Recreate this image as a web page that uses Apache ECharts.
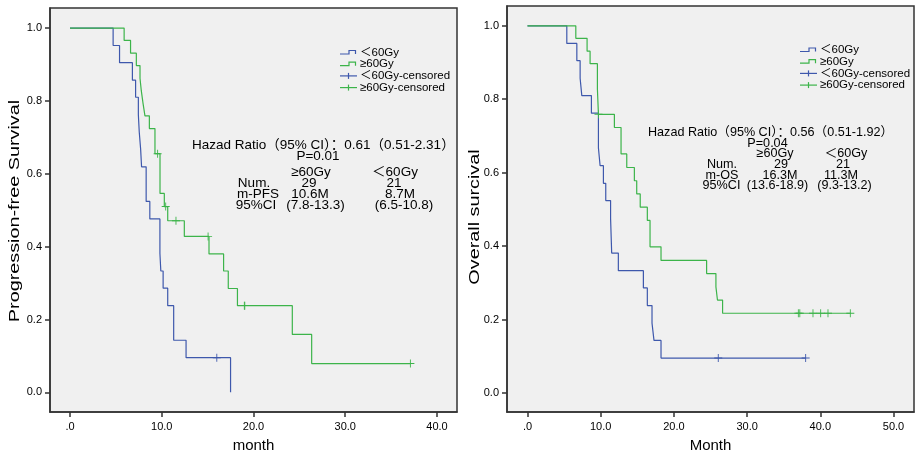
<!DOCTYPE html>
<html><head><meta charset="utf-8">
<script src="https://cdn.jsdelivr.net/npm/echarts@6/dist/echarts.min.js"></script>
<style>html,body{margin:0;padding:0;background:#fff}#c{width:924px;height:458px}</style>
</head><body><div id="c"></div>
<script>
// ---------- Data ----------
// Progression-free survival, <60Gy
const pfsLowTime = [0, 4.7, 5.4, 6.8, 7.15, 7.45, 7.55, 7.7, 7.8, 8.3, 8.7, 9.8, 9.9, 10.15, 10.65, 11.3, 12.65, 17.5];
const pfsLowSurv = [1, 0.952, 0.905, 0.857, 0.810, 0.762, 0.714, 0.667, 0.619, 0.524, 0.476, 0.381, 0.333, 0.286, 0.238, 0.143, 0.095, 0];
const pfsLowCensorTime = [16.0];
const pfsLowCensorSurv = [0.095];
// Progression-free survival, >=60Gy
const pfsHighTime = [0, 5.9, 6.6, 7.23, 7.63, 7.77, 7.96, 8.17, 8.65, 9.26, 9.81, 10.28, 10.65, 12.46, 15.15, 16.74, 17.25, 18.25, 24.23, 26.34, 37.1];
const pfsHighSurv = [1, 0.966, 0.931, 0.897, 0.862, 0.828, 0.793, 0.759, 0.724, 0.655, 0.546, 0.510, 0.471, 0.428, 0.380, 0.333, 0.285, 0.238, 0.159, 0.079, 0.079];
const pfsHighCensorTime = [9.55, 10.43, 11.55, 15.05, 19.0, 19.05, 37.1];
const pfsHighCensorSurv = [0.655, 0.510, 0.471, 0.428, 0.238, 0.238, 0.079];
// Overall survival, <60Gy
const osLowTime = [0, 5.37, 6.74, 7.19, 7.42, 8.73, 9.69, 9.92, 10.37, 10.69, 11.35, 11.5, 12.41, 15.83, 16.37, 17.01, 17.28, 18.24, 38.0];
const osLowSurv = [1, 0.952, 0.905, 0.857, 0.810, 0.762, 0.667, 0.619, 0.571, 0.524, 0.476, 0.381, 0.333, 0.286, 0.238, 0.190, 0.143, 0.095, 0.095];
const osLowCensorTime = [26.06, 38.0];
const osLowCensorSurv = [0.095, 0.095];
// Overall survival, >=60Gy
const osHighTime = [0, 6.6, 8.14, 8.55, 9.55, 9.69, 11.87, 12.78, 13.56, 14.6, 14.92, 15.4, 16.37, 16.74, 18.24, 24.47, 25.74, 25.95, 26.65, 44.1];
const osHighSurv = [1, 0.966, 0.931, 0.897, 0.828, 0.759, 0.723, 0.651, 0.614, 0.578, 0.542, 0.506, 0.470, 0.398, 0.361, 0.325, 0.289, 0.253, 0.217, 0.217];
const osHighCensorTime = [9.7, 37.0, 37.2, 39.0, 40.05, 41.05, 44.1];
const osHighCensorSurv = [0.759, 0.217, 0.217, 0.217, 0.217, 0.217, 0.217];

const xTicksPFS = [0, 10, 20, 30, 40];
const xTicksOS = [0, 10, 20, 30, 40, 50];
const yTicks = [0, 0.2, 0.4, 0.6, 0.8, 1.0];

const groupNames = ['\uFF1C60Gy', '\u226560Gy', '\uFF1C60Gy-censored', '\u226560Gy-censored'];

// ---------- Styling ----------
const BLUE = '#3e58ac';
const GREEN = '#3cb44a';
const FONT = "'Liberation Sans', Arial, 'Noto Sans CJK SC', sans-serif";
const PLUS = 'path://M4,0H5V4H9V5H5V9H4V5H0V4H4Z';

function pairs(t, s) { return t.map((v, i) => [v, s[i]]); }
function xFmt(v) { return v === 0 ? '.0' : v.toFixed(1); }

function xAxisFor(gi, min, max, ticks, name) {
  return {
    type: 'value', gridIndex: gi, min: min, max: max,
    name: name, nameLocation: 'middle', nameGap: 26,
    nameTextStyle: { fontFamily: FONT, fontSize: 15, color: '#000' },
    axisLine: { show: true, onZero: false, lineStyle: { color: '#333', width: 1.5 } },
    axisTick: { show: true, customValues: ticks, length: 5, lineStyle: { color: '#333', width: 1.5 } },
    axisLabel: { customValues: ticks, formatter: xFmt, margin: 9, fontFamily: FONT, fontSize: 11, color: '#000' },
    splitLine: { show: false }
  };
}
function yAxisFor(gi, min, max) {
  return {
    type: 'value', gridIndex: gi, min: min, max: max,
    axisLine: { show: true, onZero: false, lineStyle: { color: '#333', width: 1.5 } },
    axisTick: { show: true, customValues: yTicks, length: 5, lineStyle: { color: '#333', width: 1.5 } },
    axisLabel: { customValues: yTicks, formatter: v => v.toFixed(1), margin: 8, fontFamily: FONT, fontSize: 11, color: '#000' },
    splitLine: { show: false }
  };
}
function stepSeries(gi, name, t, s, color) {
  return { type: 'line', name: name, xAxisIndex: gi, yAxisIndex: gi, step: 'end',
    data: pairs(t, s), showSymbol: false, symbol: 'none',
    lineStyle: { color: color, width: 1.2 }, itemStyle: { color: color }, z: 3 };
}
function censorSeries(gi, name, t, s, color) {
  return { type: 'scatter', name: name, xAxisIndex: gi, yAxisIndex: gi,
    data: pairs(t, s), symbol: PLUS, symbolSize: 8,
    itemStyle: { color: color, opacity: 1 }, z: 4 };
}

// Legend drawn as graphic (step icon + text)
function legendGraphic(x0, y0) {
  const els = [];
  const rowY = [0, 11.7, 23.4, 35.1];
  const cols = [BLUE, GREEN, BLUE, GREEN];
  rowY.forEach((dy, i) => {
    const y = y0 + dy;
    if (i < 2) {
      els.push({ type: 'polyline', shape: { points: [[x0, y + 1.5], [x0 + 9, y + 1.5], [x0 + 9, y - 2], [x0 + 15.5, y - 2], [x0 + 15.5, y + 1.5]] },
        style: { stroke: cols[i], fill: null, lineWidth: 1.2 } });
    } else {
      els.push({ type: 'line', shape: { x1: x0, y1: y, x2: x0 + 17, y2: y }, style: { stroke: cols[i], lineWidth: 1.2 } });
      els.push({ type: 'line', shape: { x1: x0 + 8.5, y1: y - 3, x2: x0 + 8.5, y2: y + 3 }, style: { stroke: cols[i], lineWidth: 1.2 } });
    }
    els.push({ type: 'text', x: x0 + 20, y: y, style: { text: groupNames[i], fontFamily: FONT, fontSize: 11.5, fill: '#000', verticalAlign: 'middle', align: 'left' } });
  });
  return els;
}
function txt(x, y, s, size, align) {
  return { type: 'text', x: x, y: y, style: { text: s, fontFamily: FONT, fontSize: size, fill: '#000', align: align || 'center', verticalAlign: 'middle' } };
}
function yTitle(x, y, s) {
  return { type: 'text', x: x, y: y, rotation: Math.PI / 2, scaleX: 1.32,
    style: { text: s, fontFamily: FONT, fontSize: 15, fill: '#000', align: 'center', verticalAlign: 'middle' } };
}

const L = 13.5, R = 12.6;
const annLeft = [
  txt(192, 145, 'Hazad Ratio\uFF0895% CI\uFF09\uFF1A0.61\uFF080.51-2.31\uFF09', L, 'left'),
  txt(318, 156.7, 'P=0.01', L),
  txt(311, 172, '\u226560Gy', L), txt(395, 172, '\uFF1C60Gy', L),
  txt(254, 183, 'Num.', L), txt(309, 183, '29', L), txt(394, 183, '21', L),
  txt(258, 194, 'm-PFS', L), txt(310, 194, '10.6M', L), txt(400, 194, '8.7M', L),
  txt(256, 205, '95%CI', L), txt(315.5, 205, '(7.8-13.3)', L), txt(404, 205, '(6.5-10.8)', L)
];
const annRight = [
  txt(648, 132.7, 'Hazad Ratio\uFF0895% CI\uFF09\uFF1A0.56\uFF080.51-1.92\uFF09', R, 'left'),
  txt(767.5, 143.3, 'P=0.04', R),
  txt(775, 154, '\u226560Gy', R), txt(846, 154, '\uFF1C60Gy', R),
  txt(722, 165, 'Num.', R), txt(781, 165, '29', R), txt(843, 165, '21', R),
  txt(722, 175.3, 'm-OS', R), txt(780, 175.3, '16.3M', R), txt(841, 175.3, '11.3M', R),
  txt(721.5, 185.7, '95%CI', R), txt(777.5, 185.7, '(13.6-18.9)', R), txt(844.5, 185.7, '(9.3-13.2)', R)
];

const chart = echarts.init(document.getElementById('c'), null, { renderer: 'canvas' });
chart.setOption({
  animation: false,
  backgroundColor: '#fff',
  grid: [
    { left: 50, top: 8, width: 407, height: 406, show: true, backgroundColor: '#f0f0f0', borderColor: '#333', borderWidth: 1.5 },
    { left: 507, top: 6, width: 407, height: 406, show: true, backgroundColor: '#f0f0f0', borderColor: '#333', borderWidth: 1.5 }
  ],
  xAxis: [
    xAxisFor(0, -2.18, 42.18, xTicksPFS, 'month'),
    xAxisFor(1, -2.8, 52.8, xTicksOS, 'Month')
  ],
  yAxis: [
    yAxisFor(0, -0.054, 1.055),
    yAxisFor(1, -0.052, 1.054)
  ],
  series: [
    stepSeries(0, groupNames[0], pfsLowTime, pfsLowSurv, BLUE),
    stepSeries(0, groupNames[1], pfsHighTime, pfsHighSurv, GREEN),
    censorSeries(0, groupNames[2], pfsLowCensorTime, pfsLowCensorSurv, BLUE),
    censorSeries(0, groupNames[3], pfsHighCensorTime, pfsHighCensorSurv, GREEN),
    stepSeries(1, groupNames[0], osLowTime, osLowSurv, BLUE),
    stepSeries(1, groupNames[1], osHighTime, osHighSurv, GREEN),
    censorSeries(1, groupNames[2], osLowCensorTime, osLowCensorSurv, BLUE),
    censorSeries(1, groupNames[3], osHighCensorTime, osHighCensorSurv, GREEN)
  ],
  graphic: [].concat(
    legendGraphic(340, 52.5), legendGraphic(800, 50), annLeft, annRight,
    [yTitle(15, 211, 'Progression-free Survival'), yTitle(475, 217, 'Overall surcival')]
  )
});
</script>
</body></html>
